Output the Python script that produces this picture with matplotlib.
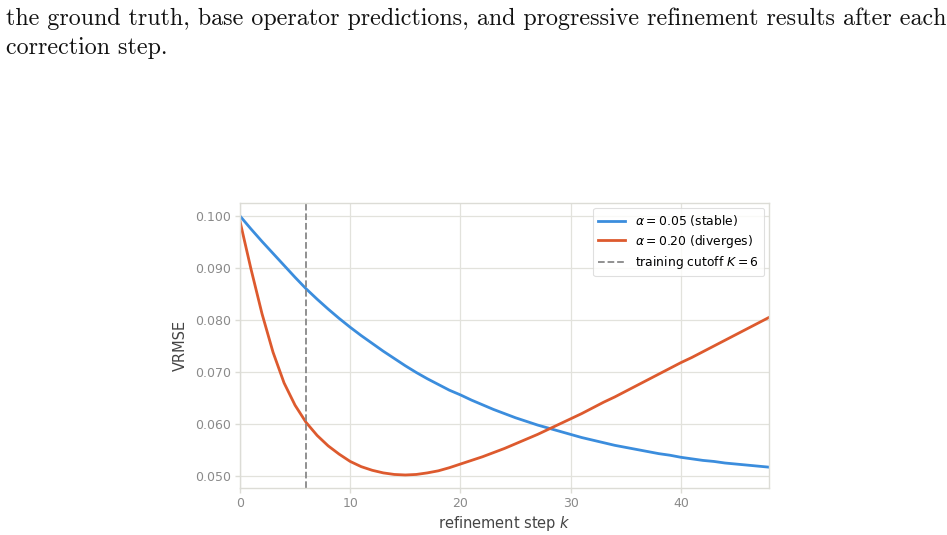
import numpy as np
import matplotlib
matplotlib.use("Agg")
import matplotlib.pyplot as plt
from matplotlib.ticker import FormatStrFormatter

# =========================================================
# DATA
# =========================================================
steps = list(range(0, 49))

vrmse_stable = [
    0.1000, 0.0975, 0.0951, 0.0928, 0.0905, 0.0882, 0.0860, 0.0840, 0.0821, 0.0803,
    0.0786, 0.0770, 0.0755, 0.0740, 0.0726, 0.0712, 0.0699, 0.0687, 0.0676, 0.0665,
    0.0656, 0.0646, 0.0637, 0.0628, 0.0620, 0.0612, 0.0605, 0.0598, 0.0592, 0.0586,
    0.0580, 0.0574, 0.0569, 0.0564, 0.0559, 0.0555, 0.0551, 0.0547, 0.0543, 0.0540,
    0.0536, 0.0533, 0.0530, 0.0528, 0.0525, 0.0523, 0.0521, 0.0519, 0.0517,
]

vrmse_diverge = [
    0.0990, 0.0898, 0.0812, 0.0738, 0.0679, 0.0636, 0.0603, 0.0578, 0.0558, 0.0542,
    0.0528, 0.0518, 0.0511, 0.0506, 0.0503, 0.0502, 0.0503, 0.0506, 0.0510, 0.0516,
    0.0523, 0.0530, 0.0537, 0.0545, 0.0553, 0.0562, 0.0571, 0.0580, 0.0590, 0.0600,
    0.0610, 0.0620, 0.0631, 0.0642, 0.0652, 0.0663, 0.0674, 0.0685, 0.0696, 0.0707,
    0.0718, 0.0728, 0.0739, 0.0750, 0.0761, 0.0772, 0.0783, 0.0794, 0.0805,
]

cutoff_k = 6

caption_lines = [
    "the ground truth, base operator predictions, and progressive refinement results after each",
    "correction step.",
]

# =========================================================
# STYLE
# =========================================================
BLUE = "#3b8ddd"
RED = "#dd5a2e"
GRID = "#e2e2dc"
SPINE = "#dcdcd6"
TICK_TXT = "#8a8a8a"
LABEL_TXT = "#444444"

fig = plt.figure(figsize=(9.47, 5.35), dpi=100)

# caption text from the paper above the figure
fig.text(0.006, 0.965, caption_lines[0], family="cmr10", fontsize=17.3,
         va="center", ha="left", color="#111111")
fig.text(0.006, 0.911, caption_lines[1], family="cmr10", fontsize=17.3,
         va="center", ha="left", color="#111111")

ax = fig.add_axes([0.2534, 0.0879, 0.5587, 0.5327])

ax.plot(steps, vrmse_stable, color=BLUE, linewidth=2,
        label=r"$\alpha = 0.05$ (stable)")
ax.plot(steps, vrmse_diverge, color=RED, linewidth=2,
        label=r"$\alpha = 0.20$ (diverges)")
ax.axvline(cutoff_k, color="#888888", linestyle="--", linewidth=1.3,
           label=r"training cutoff $K = 6$")

ax.set_xlim(0, 48)
ax.set_ylim(0.0477, 0.1025)
ax.set_xticks([0, 10, 20, 30, 40])
ax.set_yticks([0.05, 0.06, 0.07, 0.08, 0.09, 0.10])
ax.yaxis.set_major_formatter(FormatStrFormatter("%.3f"))

ax.grid(True, color=GRID, linewidth=0.9)
ax.set_axisbelow(True)
for sp in ax.spines.values():
    sp.set_color(SPINE)
    sp.set_linewidth(1.0)

ax.tick_params(axis="both", colors=SPINE, labelcolor=TICK_TXT,
               labelsize=9, length=3.5, width=1, pad=3)

ax.set_xlabel(r"refinement step $k$", color=LABEL_TXT, fontsize=10.5, labelpad=3)
ax.set_ylabel("VRMSE", color=LABEL_TXT, fontsize=10.5, labelpad=5)

leg = ax.legend(loc="upper right", fontsize=8.9, frameon=True,
                fancybox=True, handlelength=2.2, borderpad=0.4,
                labelspacing=0.38, borderaxespad=0.4)
leg.get_frame().set_edgecolor("#d8d8d8")
leg.get_frame().set_linewidth(0.8)

fig.savefig("out.png", dpi=100)
